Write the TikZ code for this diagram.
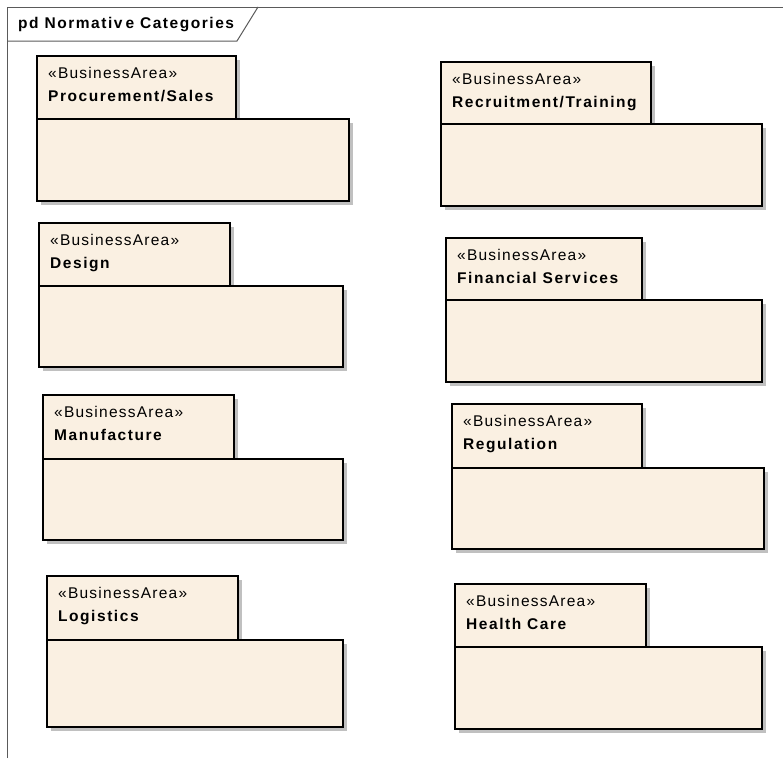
\documentclass[tikz,border=0pt]{standalone}
\usepackage{fontspec}
\setmainfont{Liberation Sans}[LetterSpace=8, BoldFeatures={LetterSpace=10}]
\usetikzlibrary{positioning}

\definecolor{pkgfill}{RGB}{250,240,226}
\definecolor{pkgshadow}{RGB}{192,192,192}
\definecolor{framecol}{RGB}{90,90,90}

\tikzset{
  pkgline/.style={draw=black, line width=1.3pt, fill=pkgfill},
  pkgshade/.style={fill=pkgshadow},
  stereo/.style={anchor=base west, inner sep=0pt, font=\fontsize{15.5}{17}\selectfont},
  pkgname/.style={anchor=base west, inner sep=0pt, font=\fontsize{15.5}{17}\selectfont\bfseries},
  frameline/.style={draw=framecol, line width=1pt},
}

% \pkgbox{id}{tab left}{tab top}{tab right}{tab bottom}{body right}{body bottom}{name}
\newcommand{\pkgbox}[8]{%
  \fill[pkgshade] ({#2+4},{#3+4}) rectangle ({#4+4},{#5+4});
  \fill[pkgshade] ({#2+4},{#5+4}) rectangle ({#6+4},{#7+4});
  \path[pkgline] (#2,#5) rectangle (#6,#7);
  \path[pkgline] (#2,#3) rectangle (#4,#5);
  \node[stereo] (#1-st) at ({#2+11},{#3+22}) {«BusinessArea»};
  \node[pkgname] (#1-nm) at ({#2+11},{#3+45.5}) {#8};
}

\begin{document}
\begin{tikzpicture}[x=1pt, y=-1pt]
  \useasboundingbox (0,0) rectangle (783,758);

  % diagram frame with its name tab
  \draw[frameline] (7,758) -- (7,7) -- (783,7);
  \draw[frameline] (7,41) -- (237,41) -- (258,7);
  \node[anchor=base west, inner sep=0pt,
        font=\fontsize{15.5}{17}\selectfont\bfseries\addfontfeature{LetterSpace=7}]
    (title) at (18,28) {pd Normativ\kern3pt e Categories};

  % left column
  \pkgbox{proc}{37}{56}{236}{119}{349}{201}{Procurement/Sales}
  \pkgbox{design}{39}{223}{230}{286}{343}{367}{Design}
  \pkgbox{manuf}{43}{395}{234}{459}{343}{540}{Manufacture}
  \pkgbox{logist}{47}{576}{238}{640}{343}{727}{Logistics}

  % right column
  \pkgbox{recruit}{441}{62}{651}{124}{762}{206}{Recruitment/Training}
  \pkgbox{finance}{446}{238}{642}{300}{762}{382}{Financial Serv\kern2.5pt ices}
  \pkgbox{regul}{452}{404}{642}{468}{764}{549}{Regulation}
  \pkgbox{health}{455}{584}{646}{647}{762}{729}{Health Care}
\end{tikzpicture}
\end{document}
